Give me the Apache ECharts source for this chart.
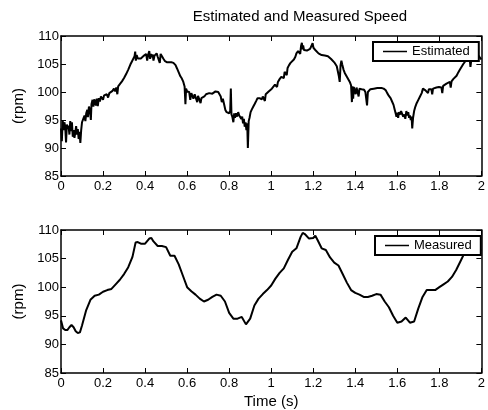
<!DOCTYPE html>
<html>
<head>
<meta charset="utf-8">
<script src="https://cdn.jsdelivr.net/npm/echarts@6/dist/echarts.min.js"></script>
<style>
html,body{margin:0;padding:0;background:#fff;}
#chart{width:488px;height:410px;}
</style>
</head>
<body>
<div id="chart"></div>
<script>
// ---- Data ----
const titleText = "Estimated and Measured Speed";
const xTicks = [0, 0.2, 0.4, 0.6, 0.8, 1, 1.2, 1.4, 1.6, 1.8, 2];
const yTicks = [85, 90, 95, 100, 105, 110];

const estTime = [
0.000,0.004,0.008,0.012,0.016,0.020,0.024,0.028,0.032,0.036,0.040,0.044,0.048,0.052,0.056,0.060,0.064,0.068,0.072,0.076,0.080,0.084,0.088,0.092,0.096,
0.100,0.106,0.112,0.116,0.120,0.125,0.128,0.133,0.138,0.142,0.145,0.150,0.154,0.158,0.162,0.166,0.170,0.175,0.180,0.185,0.190,0.196,0.200,0.205,0.212,0.218,0.224,0.230,0.238,0.245,0.252,0.258,0.263,0.268,0.272,0.280,0.290,
0.300,0.310,0.320,0.330,0.338,0.345,0.350,0.353,0.356,0.360,0.365,0.372,0.380,0.388,0.395,0.400,0.405,0.410,0.415,0.420,0.424,0.428,0.432,0.436,0.440,0.445,0.450,0.455,0.460,0.465,0.470,0.474,0.478,0.482,0.488,0.495,
0.505,0.515,0.525,0.535,0.545,0.552,0.560,0.568,0.575,0.582,0.588,0.592,0.595,0.600,0.605,0.610,0.615,0.620,0.626,0.630,0.636,0.642,0.648,0.652,0.658,0.664,0.668,0.675,0.682,0.690,0.697,
0.705,0.712,0.720,0.728,0.735,0.742,0.748,0.755,0.760,0.765,0.770,0.776,0.782,0.788,0.795,0.800,0.805,0.808,0.811,0.815,0.820,0.824,0.828,0.833,0.838,0.843,0.848,0.853,0.858,0.862,0.866,0.870,0.874,0.878,0.882,0.886,0.889,0.893,0.897,
0.902,0.908,0.915,0.922,0.930,0.935,0.940,0.945,0.950,0.955,0.960,0.966,0.970,0.974,0.980,0.988,0.995,
1.003,1.010,1.018,1.024,1.028,1.032,1.040,1.048,1.055,1.060,1.064,1.070,1.074,1.078,1.085,1.092,1.100,1.108,1.115,1.120,1.128,1.134,1.138,1.142,1.146,1.149,1.152,1.156,1.162,1.170,1.178,1.185,1.192,1.197,
1.201,1.206,1.212,1.218,1.225,1.232,1.240,1.248,1.255,1.262,1.270,1.278,1.285,1.292,1.300,1.306,1.312,1.318,1.322,1.326,1.330,1.334,1.338,1.344,1.350,1.356,1.362,1.368,1.374,1.380,1.384,1.387,1.390,1.393,1.398,
1.402,1.406,1.412,1.416,1.420,1.425,1.430,1.436,1.442,1.448,1.452,1.456,1.460,1.466,1.472,1.480,1.488,1.496,1.505,1.515,1.525,1.535,1.545,1.552,1.560,1.568,1.575,1.582,1.588,1.592,1.596,
1.600,1.604,1.608,1.614,1.618,1.622,1.628,1.634,1.638,1.643,1.648,1.652,1.656,1.660,1.664,1.668,1.671,1.675,1.680,1.686,1.692,1.700,1.708,1.716,1.722,1.728,1.734,1.740,1.746,1.750,1.756,1.762,1.766,1.770,1.778,1.786,1.792,1.798,
1.804,1.810,1.814,1.818,1.826,1.834,1.842,1.850,1.854,1.858,1.866,1.874,1.882,1.890,1.898,1.906,1.914,1.922,1.930,1.936,1.940,1.944,1.948,1.952,1.958,1.964,1.970,1.976,1.982,1.986,1.992,2.000
];
const estSpeed = [
93.5,91.2,95.0,93.2,94.6,93.8,91.0,94.2,93.4,94.0,92.4,94.8,93.0,94.6,92.0,93.2,91.8,92.8,93.9,92.4,93.4,91.6,92.9,90.9,93.2,
94.6,95.2,95.8,94.8,96.2,96.8,95.5,97.4,96.6,95.0,97.8,98.6,97.4,98.7,98.4,97.6,98.8,97.5,98.9,98.3,99.2,99.0,98.6,99.4,99.3,99.6,99.0,99.8,99.9,100.2,100.6,100.1,100.8,99.6,101.0,101.4,101.9,
102.5,103.2,104.0,104.9,105.5,105.8,106.4,107.2,105.6,106.6,106.0,106.1,106.0,106.3,106.5,106.2,106.8,105.6,106.7,107.3,105.9,106.8,106.2,106.7,105.6,106.5,106.2,106.9,106.3,106.6,105.2,106.8,107.0,106.5,105.9,105.5,
105.3,105.3,105.3,105.2,104.8,104.2,103.5,102.8,102.4,101.8,101.0,97.8,100.6,100.1,100.4,100.0,98.6,99.8,99.9,98.8,99.6,99.8,98.2,99.3,99.0,98.0,98.9,99.0,99.2,99.6,99.3,
99.8,99.9,99.7,100.0,100.1,99.9,100.0,99.7,99.2,98.2,98.8,97.8,96.8,96.4,96.6,96.2,96.6,100.6,96.0,95.6,94.6,96.2,95.4,96.2,95.6,96.4,95.8,96.1,95.2,95.6,94.4,95.2,93.8,94.6,93.2,94.4,90.0,94.8,95.4,
96.4,96.9,97.4,97.9,98.5,98.9,98.6,98.9,99.0,98.7,99.2,99.4,98.4,99.6,99.8,100.1,100.3,
100.6,100.9,101.3,101.6,100.9,101.8,102.3,102.7,103.0,102.5,103.6,103.8,103.0,104.3,104.8,105.2,105.5,105.8,106.3,106.9,107.3,107.4,106.8,108.2,108.8,107.6,108.3,107.5,107.6,107.4,107.6,107.7,108.0,108.7,
107.9,108.0,107.4,107.2,106.9,106.6,106.6,106.7,106.5,106.5,106.4,106.2,105.9,105.6,105.3,105.0,104.6,104.9,102.8,101.8,104.8,105.6,104.9,104.0,103.4,103.0,102.6,102.3,101.8,101.2,98.2,101.0,98.8,100.9,100.8,
99.6,100.8,100.5,99.2,100.6,100.3,100.5,100.2,100.4,100.0,98.8,97.6,100.0,100.3,100.5,100.4,100.6,100.7,100.7,100.7,100.7,100.6,100.3,99.8,99.3,98.9,98.3,97.7,96.8,96.2,95.6,
96.3,95.4,96.4,96.0,96.6,96.2,95.6,96.0,95.2,96.6,95.8,96.4,95.4,95.8,95.0,95.6,93.5,95.4,96.6,97.4,98.0,98.6,99.2,99.8,100.6,100.5,100.3,100.5,99.8,100.5,100.4,100.5,99.6,100.6,100.5,100.8,100.6,100.9,
101.0,100.8,99.8,101.1,101.3,101.5,101.6,101.8,100.8,101.9,102.3,102.6,102.9,103.5,104.0,104.5,105.0,105.4,105.8,106.3,105.4,106.1,104.5,105.8,106.2,106.0,106.4,106.3,105.6,106.5,106.2,105.8
];

const measTime = [
0.000,0.010,0.020,0.030,0.040,0.050,0.060,0.070,0.080,0.090,0.100,0.120,0.140,0.160,0.180,0.200,0.220,0.240,0.260,0.280,
0.300,0.320,0.340,0.355,0.365,0.380,0.400,0.420,0.430,0.440,0.460,0.480,0.500,0.520,0.540,0.560,0.580,
0.600,0.620,0.640,0.660,0.680,0.700,0.720,0.740,0.760,0.780,0.800,0.820,0.840,0.860,0.880,0.900,0.920,0.940,0.960,0.980,
1.000,1.020,1.040,1.060,1.080,1.100,1.120,1.140,1.150,1.160,1.180,1.200,1.210,1.220,1.240,1.260,1.280,
1.300,1.320,1.340,1.360,1.380,1.400,1.420,1.440,1.460,1.480,1.500,1.520,1.540,1.560,1.580,
1.600,1.620,1.640,1.660,1.680,1.700,1.720,1.740,1.760,1.780,1.800,1.820,1.840,1.860,1.880,1.900,1.920,1.940,1.960,1.980,2.000
];
const measSpeed = [
94.2,92.8,92.5,92.5,93.0,93.4,93.0,92.3,92.0,92.1,93.3,96.0,97.8,98.5,98.7,99.2,99.5,99.7,100.5,101.3,
102.3,103.5,105.3,107.8,107.9,107.6,107.6,108.5,108.6,108.0,107.2,107.2,107.0,105.5,105.5,104.0,102.0,
100.0,99.3,98.7,98.0,97.5,97.8,98.3,98.7,98.5,97.5,95.5,94.5,94.5,94.8,93.5,94.5,96.8,98.0,98.8,99.5,
100.3,101.5,102.5,103.3,104.8,106.2,106.8,108.8,109.5,109.3,108.5,108.6,109.0,108.3,106.8,106.5,105.2,
104.3,103.8,102.3,100.8,99.5,99.0,98.7,98.3,98.3,98.5,98.8,98.7,97.5,96.5,95.0,
93.8,94.0,94.7,93.8,94.0,96.3,98.3,99.5,99.5,99.5,100.0,100.5,101.0,101.8,103.0,104.5,106.0,106.4,106.5,106.5,106.5
];

// ---- build series pairs ----
function pairs(t, v) { return t.map((x, i) => [x, v[i]]); }
const estData = pairs(estTime, estSpeed);
const measData = pairs(measTime, measSpeed);

const FONT = "'Liberation Sans', Arial, Helvetica, sans-serif";
const xMin = xTicks[0], xMax = xTicks[xTicks.length - 1];
const yMin = yTicks[0], yMax = yTicks[yTicks.length - 1];

function fmtX(v) { return String(Math.round(v * 10) / 10); }

function xAx(gridIndex, position, showLabel, name) {
  return {
    type: 'value', gridIndex, position, min: xMin, max: xMax, interval: 0.2,
    axisLine: { show: true, onZero: false, lineStyle: { color: '#000', width: 1.5 } },
    axisTick: { show: true, inside: true, length: 5, lineStyle: { color: '#000', width: 1 } },
    axisLabel: { show: showLabel, color: '#000', fontFamily: FONT, fontSize: 13, margin: 4, formatter: fmtX, showMaxLabel: true, showMinLabel: true },
    splitLine: { show: false },
    name: name || '', nameLocation: 'middle', nameGap: 21,
    nameTextStyle: { color: '#000', fontFamily: FONT, fontSize: 15 }
  };
}
function yAx(gridIndex, position, showLabel) {
  return {
    type: 'value', gridIndex, position, min: yMin, max: yMax, interval: 5,
    axisLine: { show: true, onZero: false, lineStyle: { color: '#000', width: 1.5 } },
    axisTick: { show: true, inside: true, length: 5, lineStyle: { color: '#000', width: 1 } },
    axisLabel: { show: showLabel, color: '#000', fontFamily: FONT, fontSize: 13, margin: 2 },
    splitLine: { show: false },
    name: showLabel ? '(rpm)' : '', nameLocation: 'middle', nameGap: 30, nameRotate: 90,
    nameTextStyle: { color: '#000', fontFamily: FONT, fontSize: 15 }
  };
}

function legendBox(name, left, top) {
  return { data: [name], left, top, orient: 'vertical', icon: 'rect', itemWidth: 24, itemHeight: 1.5,
    padding: [3, 9, 3, 10], borderColor: '#000', borderWidth: 2, backgroundColor: '#fff', borderRadius: 0,
    textStyle: { color: '#000', fontFamily: FONT, fontSize: 13 }, itemStyle: { color: '#000' } };
}

const chart = echarts.init(document.getElementById('chart'), null, { renderer: 'canvas' });
chart.setOption({
  animation: false,
  backgroundColor: '#fff',
  title: {
    text: titleText, left: 295, top: 4, textAlign: 'center',
    textStyle: { color: '#000', fontFamily: FONT, fontSize: 15, fontWeight: 'normal' }
  },
  grid: [
    { left: 61, top: 36, width: 426, height: 140 },
    { left: 61, top: 230, width: 426, height: 143 }
  ],
  xAxis: [
    xAx(0, 'bottom', true), xAx(0, 'top', false),
    xAx(1, 'bottom', true, 'Time (s)'), xAx(1, 'top', false)
  ],
  yAxis: [
    yAx(0, 'left', true), yAx(0, 'right', false),
    yAx(1, 'left', true), yAx(1, 'right', false)
  ],
  legend: [ legendBox('Estimated', 373, 42), legendBox('Measured', 375, 236) ],
  series: [
    { name: 'Estimated', type: 'line', xAxisIndex: 0, yAxisIndex: 0, data: estData, showSymbol: false, symbol: 'none',
      lineStyle: { color: '#000', width: 2 }, itemStyle: { color: '#000' }, clip: true, z: 2 },
    { name: 'Measured', type: 'line', xAxisIndex: 2, yAxisIndex: 2, data: measData, showSymbol: false, symbol: 'none',
      lineStyle: { color: '#000', width: 2 }, itemStyle: { color: '#000' }, clip: true, z: 2 }
  ]
});
</script>
</body>
</html>
